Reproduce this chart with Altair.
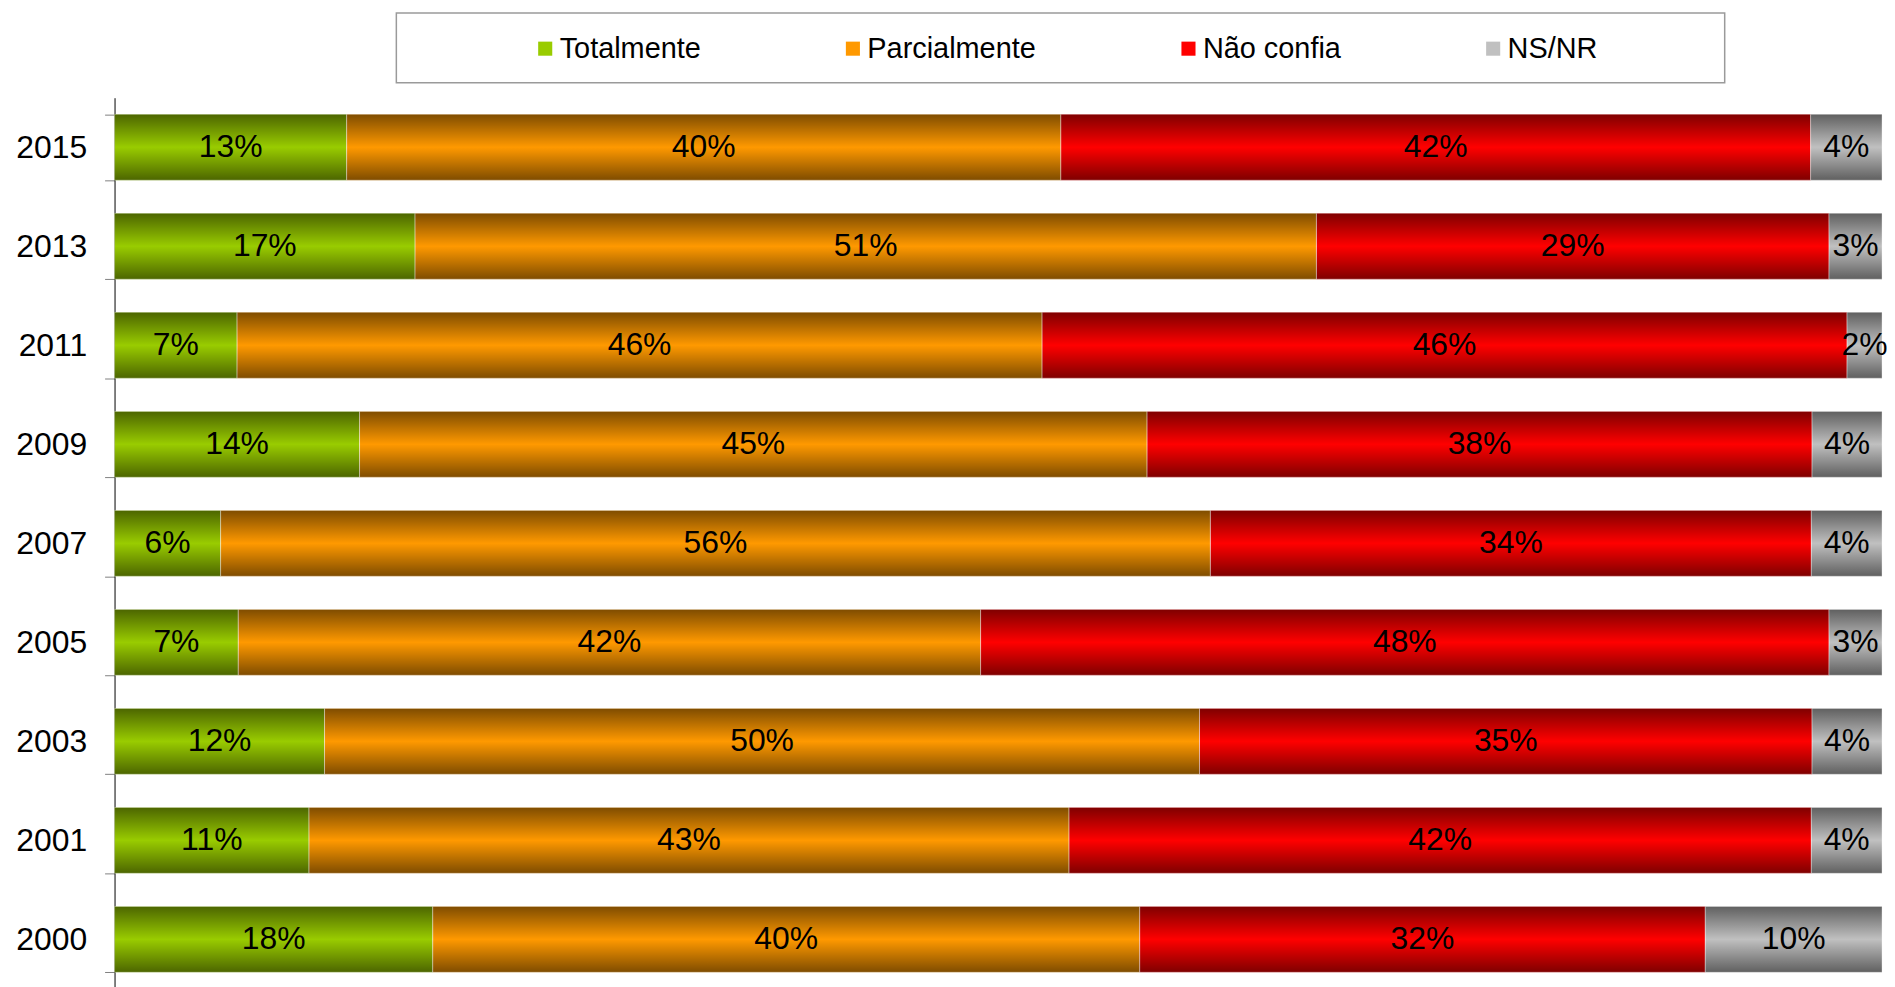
import altair as alt
import pandas as pd

years = ["2015", "2013", "2011", "2009", "2007", "2005", "2003", "2001", "2000"]
categories = ["Totalmente", "Parcialmente", "Não confia", "NS/NR"]
totalmente = [13, 17, 7, 14, 6, 7, 12, 11, 18]
parcialmente = [40, 51, 46, 45, 56, 42, 50, 43, 40]
nao_confia = [42, 29, 46, 38, 34, 48, 35, 42, 32]
ns_nr = [4, 3, 2, 4, 4, 3, 4, 4, 10]
colors = ["#99CC00", "#FF9900", "#FF0000", "#C0C0C0"]

series = [totalmente, parcialmente, nao_confia, ns_nr]
rows = []
for ci, (cat, vals) in enumerate(zip(categories, series)):
    for y, v in zip(years, vals):
        rows.append({"year": y, "cat": cat, "order": ci, "value": v, "label": f"{v}%"})
df = pd.DataFrame(rows)

W, H = 1775, 895
FONT = "Liberation Sans"

shade = alt.LinearGradient(
    gradient="linear",
    stops=[
        alt.GradientStop(color="rgba(0,0,0,0.5)", offset=0),
        alt.GradientStop(color="rgba(0,0,0,0)", offset=0.5),
        alt.GradientStop(color="rgba(0,0,0,0.5)", offset=1),
    ],
    x1=0, x2=0, y1=0, y2=1,
)

base = alt.Chart(df).transform_stack(
    stack="value",
    groupby=["year"],
    as_=["x0", "x1"],
    offset="normalize",
    sort=[alt.SortField("order", order="ascending")],
).transform_calculate(mid="(datum.x0 + datum.x1) / 2")

yenc = alt.Y(
    "year:N",
    sort=years,
    title=None,
    scale=alt.Scale(paddingInner=0.335, paddingOuter=0.168),
    axis=alt.Axis(
        labelFont=FONT, labelFontSize=32, labelColor="black", labelPadding=18,
        tickSize=10, tickColor="#808080", tickWidth=1, tickBand="extent",
        domainColor="black", domainWidth=1, grid=False,
    ),
)
xscale = alt.Scale(domain=[0, 1])

bars = base.mark_bar().encode(
    x=alt.X("x0:Q", scale=xscale, axis=None),
    x2="x1:Q",
    y=yenc,
    color=alt.Color(
        "cat:N",
        sort=categories,
        scale=alt.Scale(domain=categories, range=colors),
        legend=alt.Legend(
            title=None, orient="none", legendX=418, legendY=-64,
            direction="horizontal", columns=4, columnPadding=138,
            symbolType="square", symbolSize=200, symbolStrokeWidth=0,
            labelFont=FONT, labelFontSize=29, labelColor="black", labelOffset=0,
            labelLimit=600,
        ),
    ),
)

shading = base.mark_bar(fill=shade, stroke="#ffffff", strokeOpacity=0.35, strokeWidth=1).encode(
    x=alt.X("x0:Q", scale=xscale, axis=None),
    x2="x1:Q",
    y=yenc,
)

labels = base.mark_text(font=FONT, fontSize=32, color="black", align="center", baseline="middle").encode(
    x=alt.X("mid:Q", scale=xscale, axis=None),
    y=yenc,
    text="label:N",
)

frame = alt.Chart(alt.Data(values=[{}])).mark_rect(
    fill="white", fillOpacity=0, stroke="#9a9a9a", strokeWidth=1.5
).encode(
    x=alt.value(283), x2=alt.value(1617), y=alt.value(-85), y2=alt.value(-15)
)

chart = alt.layer(bars, shading, labels, frame).properties(
    width=W,
    height=H,
    autosize=alt.AutoSizeParams(type="none"),
    padding={"left": 107, "top": 88, "right": 5, "bottom": 0},
).configure_view(stroke="transparent")

chart.save("out.html", embed_options={"renderer": "svg", "actions": False})
